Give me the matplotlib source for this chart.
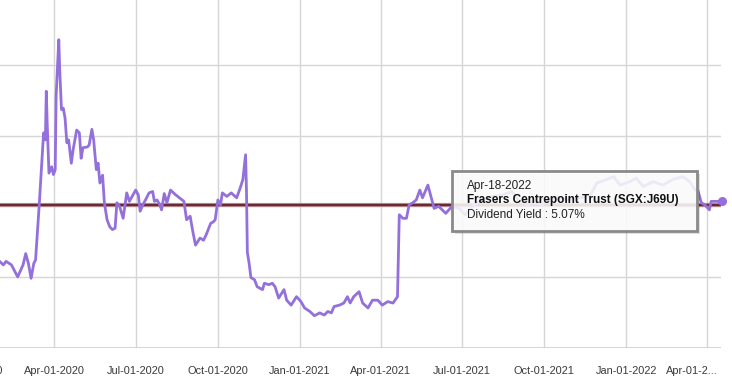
import matplotlib
matplotlib.use("Agg")
import matplotlib.pyplot as plt
from matplotlib.patches import Rectangle
from matplotlib.transforms import ScaledTranslation
import pandas as pd

plt.rcParams['font.family'] = ['Liberation Sans', 'DejaVu Sans']

dates = [
    "2020-01-29", "2020-02-04", "2020-02-07", "2020-02-13", "2020-02-20", "2020-02-26",
    "2020-02-29", "2020-03-03", "2020-03-06", "2020-03-09", "2020-03-11", "2020-03-15",
    "2020-03-18", "2020-03-20", "2020-03-22", "2020-03-23", "2020-03-24", "2020-03-26",
    "2020-03-29", "2020-03-31", "2020-04-02", "2020-04-03", "2020-04-06", "2020-04-07",
    "2020-04-09", "2020-04-11", "2020-04-13", "2020-04-15", "2020-04-17", "2020-04-20",
    "2020-04-22", "2020-04-26", "2020-04-29", "2020-05-01", "2020-05-03", "2020-05-08",
    "2020-05-10", "2020-05-13", "2020-05-15", "2020-05-18", "2020-05-20", "2020-05-22",
    "2020-05-25", "2020-05-27", "2020-05-30", "2020-06-02", "2020-06-05", "2020-06-08",
    "2020-06-10", "2020-06-13", "2020-06-17", "2020-06-21", "2020-06-24", "2020-07-01",
    "2020-07-04", "2020-07-06", "2020-07-09", "2020-07-12", "2020-07-16", "2020-07-20",
    "2020-07-22", "2020-07-25", "2020-07-28", "2020-07-30", "2020-08-02", "2020-08-05",
    "2020-08-09", "2020-08-15", "2020-08-21", "2020-08-24", "2020-08-27", "2020-08-31",
    "2020-09-03", "2020-09-06", "2020-09-11", "2020-09-15", "2020-09-18", "2020-09-23",
    "2020-09-26", "2020-09-28", "2020-10-01", "2020-10-04", "2020-10-06", "2020-10-11",
    "2020-10-16", "2020-10-22", "2020-10-26", "2020-10-29", "2020-11-01", "2020-11-02",
    "2020-11-03", "2020-11-05", "2020-11-07", "2020-11-11", "2020-11-14", "2020-11-20",
    "2020-11-22", "2020-11-27", "2020-12-01", "2020-12-04", "2020-12-08", "2020-12-14",
    "2020-12-17", "2020-12-22", "2020-12-28", "2021-01-02", "2021-01-06", "2021-01-12",
    "2021-01-17", "2021-01-23", "2021-01-28", "2021-02-01", "2021-02-05", "2021-02-08",
    "2021-02-14", "2021-02-19", "2021-02-23", "2021-02-26", "2021-03-02", "2021-03-08",
    "2021-03-12", "2021-03-18", "2021-03-23", "2021-03-29", "2021-04-03", "2021-04-09",
    "2021-04-15", "2021-04-20", "2021-04-22", "2021-04-26", "2021-04-30", "2021-05-03",
    "2021-05-07", "2021-05-11", "2021-05-15", "2021-05-18", "2021-05-24", "2021-05-27",
    "2021-05-31", "2021-06-05", "2021-06-13", "2021-06-18", "2021-06-20", "2021-06-28",
    "2021-07-05", "2021-07-13", "2021-07-24", "2021-08-04", "2021-08-15", "2021-08-26",
    "2021-09-02", "2021-09-13", "2021-09-20", "2021-09-28", "2021-10-05", "2021-10-16",
    "2021-10-27", "2021-11-11", "2021-11-22", "2021-11-29", "2021-12-10", "2021-12-18",
    "2021-12-25", "2022-01-05", "2022-01-12", "2022-01-20", "2022-01-31", "2022-02-11",
    "2022-02-22", "2022-03-05", "2022-03-13", "2022-03-19", "2022-03-22", "2022-03-26",
    "2022-03-30", "2022-04-04", "2022-04-06", "2022-04-10", "2022-04-18",
]
yields = [
    4.24, 4.17, 4.22, 4.17, 4.00, 4.17,
    4.33, 4.19, 3.98, 4.19, 4.24, 5.00,
    5.61, 6.04, 5.94, 6.63, 6.18, 5.47,
    5.56, 5.45, 5.52, 6.56, 7.36, 6.94,
    6.37, 6.39, 6.25, 5.90, 5.94, 5.61,
    5.80, 6.08, 6.04, 5.68, 5.83, 5.84,
    5.87, 6.09, 5.94, 5.52, 5.61, 5.33,
    5.44, 5.05, 4.81, 4.71, 4.67, 4.69,
    5.05, 5.00, 4.83, 5.19, 5.07, 5.23,
    5.16, 4.93, 5.02, 5.09, 5.19, 5.21,
    5.07, 5.09, 5.02, 4.95, 5.18, 5.05,
    5.23, 5.16, 5.10, 5.07, 4.81, 4.86,
    4.64, 4.45, 4.55, 4.52, 4.60, 4.76,
    4.78, 4.81, 5.09, 5.02, 5.19, 5.14,
    5.19, 5.12, 5.26, 5.38, 5.73, 5.23,
    4.35, 4.19, 3.99, 3.96, 3.86, 3.82,
    3.91, 3.89, 3.91, 3.86, 3.70, 3.82,
    3.67, 3.60, 3.72, 3.65, 3.56, 3.51,
    3.45, 3.49, 3.46, 3.51, 3.49, 3.58,
    3.60, 3.63, 3.72, 3.63, 3.72, 3.79,
    3.63, 3.56, 3.67, 3.67, 3.60, 3.65,
    3.63, 3.72, 4.88, 4.83, 4.83, 5.02,
    5.05, 5.09, 5.23, 5.12, 5.30, 5.16,
    4.97, 5.00, 4.90, 4.97, 5.00, 4.97,
    4.88, 5.00, 5.09, 5.14, 5.16, 5.21,
    5.09, 5.02, 5.09, 5.02, 5.09, 5.14,
    5.09, 5.12, 5.16, 5.33, 5.38, 5.42,
    5.30, 5.35, 5.40, 5.28, 5.35, 5.30,
    5.38, 5.42, 5.35, 5.23, 5.23, 5.05,
    5.02, 4.95, 5.07, 5.07, 5.07,
]
avg_yield = 5.02
tick_dates = ["2020-01-01", "2020-04-01", "2020-07-01", "2020-10-01", "2021-01-01",
              "2021-04-01", "2021-07-01", "2021-10-01", "2022-01-01", "2022-04-01"]
tick_labels = ["Jan-01-2020", "Apr-01-2020", "Jul-01-2020", "Oct-01-2020", "Jan-01-2021",
               "Apr-01-2021", "Jul-01-2021", "Oct-01-2021", "Jan-01-2022", "Apr-01-2..."]
y_ticks = [3, 4, 5, 6, 7, 8]
tooltip_date = "Apr-18-2022"
tooltip_name = "Frasers Centrepoint Trust (SGX:J69U)"
tooltip_value = "Dividend Yield : 5.07%"

W, H = 732, 386
fig = plt.figure(figsize=(W / 100, H / 100), dpi=100)
fig.patch.set_facecolor('white')

# axes extends off the left/top of the (cropped) view
left_px, right_px = -54.7, 721.0
bottom_px, top_px = 347.5, -5.5
ax = fig.add_axes([left_px / W, (H - bottom_px) / H,
                   (right_px - left_px) / W, (bottom_px - top_px) / H])
ax.set_frame_on(False)

x = pd.to_datetime(dates)
xt = pd.to_datetime(tick_dates)
ax.set_xlim(pd.Timestamp("2019-12-01"), pd.Timestamp("2022-04-17"))
ax.set_ylim(3, 8)

ax.set_yticks(y_ticks)
ax.set_xticks(xt)
ax.set_xticklabels(tick_labels)
ax.grid(False)
for t in xt:
    ax.axvline(t, color='#d6d6d6', linewidth=1.0, zorder=1)
for yv in y_ticks[1:]:
    ax.axhline(yv, color='#d6d6d6', linewidth=1.0, zorder=1)
ax.axhline(y_ticks[0], color='#c8cedb', linewidth=1.2, zorder=2)
ax.tick_params(axis='x', length=0, pad=13, labelsize=7.9, labelcolor='#3a3a3a')
ax.tick_params(axis='y', length=0, labelleft=False)

last = ax.get_xticklabels()[-1]
last.set_transform(last.get_transform() + ScaledTranslation(-15 / 100, 0, fig.dpi_scale_trans))

ax.axhline(avg_yield, color='#b0868c', linewidth=3.0, zorder=2)
ax.axhline(avg_yield, color='#6a2830', linewidth=1.4, zorder=2)
ax.plot(x, yields, color='#9370DB', linewidth=2.0, zorder=3, solid_joinstyle='round',
        clip_on=False)
ax.plot(x[-1:], yields[-1:], 'o', color='#9370DB', markersize=5.5, zorder=4, clip_on=False)

# tooltip
bx0, by0, bx1, by1 = 451.7, 170.7, 696.7, 230.7
def fx(px): return px / W
def fy(py): return (H - py) / H
shadow = Rectangle((fx(bx0 + 3), fy(by1 + 3)), fx(bx1 - bx0), (by1 - by0) / H,
                   transform=fig.transFigure, facecolor='#000000', alpha=0.12,
                   edgecolor='none', zorder=9)
fig.patches.append(shadow)
box = Rectangle((fx(bx0), fy(by1)), fx(bx1 - bx0), (by1 - by0) / H,
                transform=fig.transFigure, facecolor=(1, 1, 1, 0.86),
                edgecolor='#8a8a8a', linewidth=2.0, zorder=10)
fig.patches.append(box)
tx = 466.7
fig.text(fx(tx), fy(186), tooltip_date, fontsize=8.5, color='#222222', va='center', zorder=11)
fig.text(fx(tx), fy(200.5), tooltip_name, fontsize=8.5, color='#111111',
         fontweight='bold', va='center', zorder=11)
fig.text(fx(tx), fy(214.5), tooltip_value, fontsize=8.5, color='#222222', va='center', zorder=11)

fig.savefig("out.png", dpi=100)
